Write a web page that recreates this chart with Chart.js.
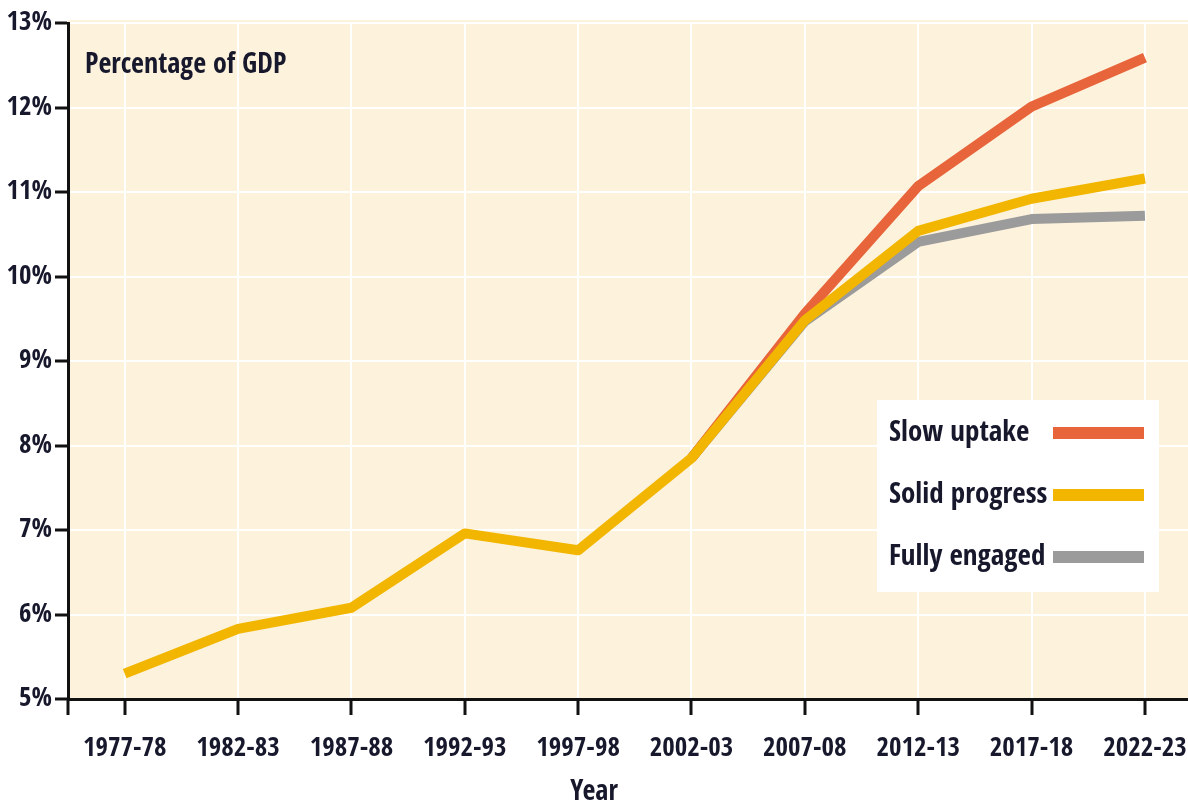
<!DOCTYPE html>
<html>
<head>
<meta charset="utf-8">
<script src="https://cdn.jsdelivr.net/npm/chart.js@4/dist/chart.umd.min.js"></script>
<style>
  html, body { margin: 0; padding: 0; background: #fff; overflow: hidden; }
</style>
</head>
<body>
<canvas id="chart" width="1188" height="809"></canvas>
<script>
// data (percentage of GDP)
const years = ["1977-78", "1982-83", "1987-88", "1992-93", "1997-98", "2002-03", "2007-08", "2012-13", "2017-18", "2022-23"];
const slowUptake = [null, null, null, null, null, 7.85, 9.56, 11.07, 12.01, 12.59];
const solidProgress = [5.30, 5.83, 6.08, 6.96, 6.76, 7.85, 9.48, 10.54, 10.92, 11.16];
const fullyEngaged = [null, null, null, null, null, 7.85, 9.47, 10.41, 10.68, 10.72];
const yTicks = [5, 6, 7, 8, 9, 10, 11, 12, 13];

const FONT = '"Open Sans Condensed", "Roboto Condensed", sans-serif';
const INK = '#17182c';

function toPoints(values) {
  return values.map((v, i) => ({ x: i, y: v }));
}

// background, legend box and the two free texts
const decorations = {
  id: 'decorations',
  beforeDraw(chart) {
    const { ctx, chartArea: a } = chart;
    ctx.save();
    ctx.fillStyle = '#fdf3dd';
    ctx.fillRect(a.left, a.top - 3, a.right - a.left, a.bottom - a.top + 3);
    ctx.restore();
  },
  afterDraw(chart) {
    const { ctx, chartArea: a } = chart;
    ctx.save();
    ctx.fillStyle = INK;
    ctx.font = '600 28px ' + FONT;
    ctx.textBaseline = 'middle';
    ctx.textAlign = 'left';
    ctx.fillText('Percentage of GDP', 85, 66);

    ctx.textAlign = 'center';
    ctx.fillText('Year', chart.width / 2, 793);

    // y axis stub below the x axis
    ctx.strokeStyle = '#111';
    ctx.lineWidth = 3;
    ctx.beginPath();
    ctx.moveTo(a.left, a.bottom);
    ctx.lineTo(a.left, a.bottom + 16);
    ctx.stroke();

    // legend: label left, swatch right
    ctx.fillStyle = '#ffffff';
    ctx.fillRect(877, 400, 282, 192);
    const rows = [433, 495, 557];
    ctx.font = '600 29px ' + FONT;
    chart.data.datasets.forEach((ds, i) => {
      ctx.fillStyle = INK;
      ctx.textAlign = 'left';
      ctx.fillText(ds.label, 889, rows[i]);
      ctx.fillStyle = ds.borderColor;
      ctx.fillRect(1053, rows[i] - 6, 91, 12);
    });
    ctx.restore();
  }
};

new Chart(document.getElementById('chart'), {
  type: 'line',
  data: {
    datasets: [
      { label: 'Slow uptake', data: toPoints(slowUptake), borderColor: '#e8643a', order: 1 },
      { label: 'Solid progress', data: toPoints(solidProgress), borderColor: '#f2b600', order: 0 },
      { label: 'Fully engaged', data: toPoints(fullyEngaged), borderColor: '#9b9b9b', order: 2 }
    ]
  },
  options: {
    responsive: false,
    animation: false,
    devicePixelRatio: 1,
    layout: { padding: { top: 23, left: 0, right: 0, bottom: 0 } },
    elements: {
      line: { borderWidth: 10, tension: 0, borderCapStyle: 'butt', borderJoinStyle: 'round' },
      point: { radius: 0, hoverRadius: 0 }
    },
    plugins: {
      legend: { display: false },
      tooltip: { enabled: false }
    },
    scales: {
      x: {
        type: 'linear',
        min: -0.5,
        max: 9.38,
        afterBuildTicks(scale) {
          scale.ticks = years.map((_, i) => ({ value: i }));
        },
        afterFit(scale) {
          scale.height = 110;
          scale.paddingLeft = 0;
          scale.paddingRight = 0;
        },
        grid: { color: '#ffffff', lineWidth: 2, tickColor: '#111', tickLength: 16, tickWidth: 3 },
        border: { color: '#111', width: 3 },
        ticks: {
          color: INK,
          font: { family: FONT, size: 27, weight: '600' },
          padding: 18,
          maxRotation: 0,
          autoSkip: false,
          callback: (v) => years[v]
        }
      },
      y: {
        min: 5,
        max: 13,
        afterBuildTicks(scale) {
          scale.ticks = yTicks.map((v) => ({ value: v }));
        },
        afterFit(scale) {
          scale.width = 68;
          scale.paddingTop = 0;
          scale.paddingBottom = 0;
        },
        grid: { color: '#ffffff', lineWidth: 2, tickColor: '#111', tickLength: 13, tickWidth: 3 },
        border: { color: '#111', width: 3 },
        ticks: {
          color: INK,
          font: { family: FONT, size: 27, weight: '600' },
          padding: 3,
          callback: (v) => v + '%'
        }
      }
    }
  },
  plugins: [decorations]
});
</script>
</body>
</html>
